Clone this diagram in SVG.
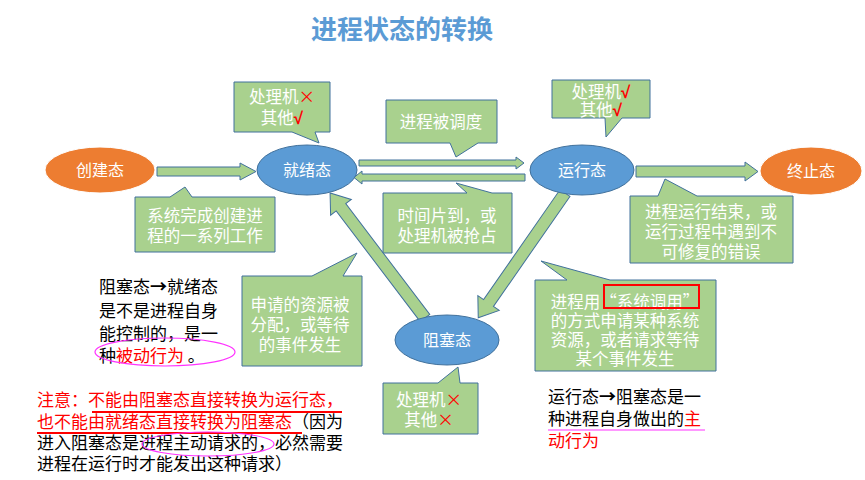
<svg xmlns="http://www.w3.org/2000/svg" width="865" height="480" viewBox="0 0 865 480">
<style>
.bg{fill:#ffffff}
.title{font-family:"Noto Sans CJK SC","Liberation Sans",sans-serif;font-size:26px;font-weight:bold;fill:#5b9bd5}
.node-o{fill:#ed7d31;stroke:#ffffff;stroke-width:1}
.node-b{fill:#5b9bd5;stroke:#41719c;stroke-width:1}
.nt{font-family:"Noto Sans CJK SC","Liberation Sans",sans-serif;font-size:16px;fill:#ffffff;text-anchor:middle}
.arrow{fill:#a9d18e;stroke:#41719c;stroke-width:1}
.call{fill:#a9d18e;stroke:#41719c;stroke-width:1}
.ct{font-family:"Noto Sans CJK SC","Liberation Sans",sans-serif;font-size:16.5px;fill:#ffffff;text-anchor:middle}
.red{fill:#ff0000}
.chk{fill:#ff0000;font-family:"Liberation Sans",sans-serif;font-weight:bold;font-size:17px}
.tx{font-family:"Noto Sans CJK SC","Liberation Sans",sans-serif;font-size:17px;fill:#000000}
.rt{fill:#ff0000}
.mag{fill:none;stroke:#ff33ff;stroke-width:1.2}
</style>
<rect class="bg" x="0" y="0" width="865" height="480"/>
<text class="title" x="402" y="39" text-anchor="middle">进程状态的转换</text>

<g id="connectors">
  <!-- 创建态 -> 就绪态 -->
  <polygon class="arrow" points="157,167 240,167 240,163 256,171.5 240,180 240,176 157,176"/>
  <!-- 就绪态 -> 运行态 -->
  <polygon class="arrow" points="359,160 516,160 516,157 524,163 516,169 516,166 359,166"/>
  <!-- 运行态 -> 就绪态 -->
  <polygon class="arrow" points="525,174 362,174 362,171 354,177.5 362,184 362,181 525,181"/>
  <!-- 运行态 -> 终止态 -->
  <polygon class="arrow" points="636,166 745,166 745,162 758,171.5 745,181 745,177 636,177"/>
  <!-- 阻塞态 -> 就绪态 -->
  <g transform="translate(425,318) rotate(-127.2)">
    <polygon class="arrow" points="0,-6 139,-6 139,-13 157,0 139,13 139,6 0,6"/>
  </g>
  <!-- 运行态 -> 阻塞态 -->
  <g transform="translate(565,193) rotate(124.8)">
    <polygon class="arrow" points="0,-6 134,-6 134,-13 152,0 134,13 134,6 0,6"/>
  </g>
</g>

<g id="node-create">
  <ellipse class="node-o" cx="100" cy="170" rx="55" ry="23"/>
  <text class="nt" x="100" y="176">创建态</text>
</g>
<g id="node-ready">
  <ellipse class="node-b" cx="307" cy="170" rx="50" ry="25"/>
  <text class="nt" x="307" y="176">就绪态</text>
</g>
<g id="node-running">
  <ellipse class="node-b" cx="582" cy="170" rx="52" ry="25"/>
  <text class="nt" x="582" y="176">运行态</text>
</g>
<g id="node-exit">
  <ellipse class="node-o" cx="811" cy="171" rx="51" ry="24"/>
  <text class="nt" x="811" y="177">终止态</text>
</g>
<g id="node-blocked">
  <ellipse class="node-b" cx="447" cy="340" rx="52" ry="25"/>
  <text class="nt" x="447" y="346">阻塞态</text>
</g>

<g id="callout-ready-res">
  <path class="call" d="M234,82 H330 V132 H315 L319,143 L292,132 H234 Z"/>
  <text class="ct" x="282" y="103">处理机<tspan class="red">×</tspan></text>
  <text class="ct" x="282" y="124">其他<tspan class="chk">√</tspan></text>
</g>
<g id="callout-run-res">
  <path class="call" d="M552,80 H650 V118 H622 L606,137 L605,118 H552 Z"/>
  <text class="ct" x="601" y="98">处理机<tspan class="chk">√</tspan></text>
  <text class="ct" x="601" y="116">其他<tspan class="chk">√</tspan></text>
</g>
<g id="callout-dispatch">
  <path class="call" d="M386,100 H497 V143 H478 L456,157 L450,143 H386 Z"/>
  <text class="ct" x="441" y="128">进程被调度</text>
</g>
<g id="callout-create">
  <path class="call" d="M135,197 H170 L185,187 L192,197 H275 V252 H135 Z"/>
  <text class="ct" x="205" y="222">系统完成创建进</text>
  <text class="ct" x="205" y="242">程的一系列工作</text>
</g>
<g id="callout-timeout">
  <path class="call" d="M383,193 H467 L456,183 L492,193 H512 V253 H383 Z"/>
  <text class="ct" x="447" y="222">时间片到，或</text>
  <text class="ct" x="447" y="242">处理机被抢占</text>
</g>
<g id="callout-exit">
  <path class="call" d="M630,196 H658 L665,179 L697,196 H793 V263 H630 Z"/>
  <text class="ct" x="711" y="218">进程运行结束，或</text>
  <text class="ct" x="711" y="238">运行过程中遇到不</text>
  <text class="ct" x="711" y="258">可修复的错误</text>
</g>
<g id="callout-wakeup">
  <path class="call" d="M242,276 H312 L357,253 L343,276 H362 V366 H242 Z"/>
  <text class="ct" x="300" y="311">申请的资源被</text>
  <text class="ct" x="300" y="331">分配，或等待</text>
  <text class="ct" x="300" y="351">的事件发生</text>
</g>
<g id="callout-block">
  <path class="call" d="M535,280 H567 L541,261 L610,280 H716 V371 H535 Z"/>
  <text class="ct" x="625" y="308">进程用“系统调用”</text>
  <text class="ct" x="625" y="327">的方式申请某种系统</text>
  <text class="ct" x="625" y="346">资源，或者请求等待</text>
  <text class="ct" x="625" y="365">某个事件发生</text>
  <rect x="604" y="285" width="95" height="23" fill="none" stroke="#ff0000" stroke-width="2"/>
</g>
<g id="callout-blocked-res">
  <path class="call" d="M383,383 H438 L458,367 L460,383 H478 V434 H383 Z"/>
  <text class="ct" x="429" y="406">处理机<tspan class="red">×</tspan></text>
  <text class="ct" x="429" y="426">其他<tspan class="red">×</tspan></text>
</g>

<g id="note-left">
  <text class="tx" x="99" y="293">阻塞态<tspan font-weight="bold">→</tspan>就绪态</text>
  <text class="tx" x="99" y="317">是不是进程自身</text>
  <text class="tx" x="99" y="340">能控制的，是一</text>
  <text class="tx" x="99" y="362">种<tspan class="rt">被动行为</tspan> 。</text>
  <ellipse class="mag" cx="165" cy="352" rx="70" ry="14"/>
</g>
<g id="note-bottom">
  <text class="tx" x="37" y="406"><tspan class="rt">注意：不能由阻塞态直接转换为运行态，</tspan></text>
  <text class="tx" x="37" y="428"><tspan class="rt">也不能由就绪态直接转换为阻塞态</tspan>（因为</text>
  <text class="tx" x="37" y="449">进入阻塞态是进程主动请求的，必然需要</text>
  <text class="tx" x="37" y="470">进程在运行时才能发出这种请求）</text>
  <line x1="92" y1="412" x2="342" y2="412" stroke="#ff0000" stroke-width="2"/>
  <line x1="37" y1="433" x2="302" y2="433" stroke="#ff0000" stroke-width="2"/>
  <ellipse class="mag" cx="208" cy="444" rx="66" ry="12"/>
</g>
<g id="note-right">
  <text class="tx" x="548" y="403">运行态<tspan font-weight="bold">→</tspan>阻塞态是一</text>
  <text class="tx" x="548" y="425">种进程自身做出的<tspan class="rt">主</tspan></text>
  <text class="tx" x="548" y="447"><tspan class="rt">动行为</tspan></text>
  <line x1="548" y1="430" x2="705" y2="430" stroke="#ff33ff" stroke-width="1.2"/>
</g>
</svg>
